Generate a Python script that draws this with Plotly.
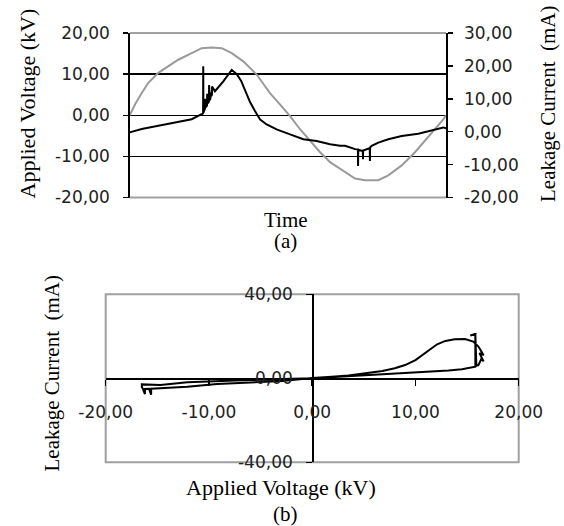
import plotly.graph_objects as go

# ---------------- data ----------------
# (a) applied voltage (kV) vs time (ms, one 50 Hz cycle)
t_voltage = [0.00, 0.34, 0.76, 1.18, 1.81, 2.44, 3.07, 3.92, 4.55, 5.18, 5.82, 6.45,
             7.18, 8.03, 8.87, 9.50, 10.14, 10.77, 11.40, 12.04, 12.67, 13.30, 13.62,
             14.25, 14.88, 15.72, 16.35, 17.20, 18.04, 18.67, 19.30, 19.83, 20.00]
voltage_kv = [0.0, 2.65, 5.4, 7.9, 10.3, 11.9, 13.5, 15.1, 16.3, 16.5, 16.3, 15.1,
              13.1, 9.9, 5.4, 2.65, -0.2, -3.4, -6.2, -9.0, -11.4, -13.0, -14.0,
              -15.4, -15.8, -15.8, -14.6, -12.2, -9.0, -6.2, -3.4, -1.0, 0.0]

# (a) leakage current (mA) vs time (ms)
t_current = [0.00, 0.76, 1.81, 2.86, 3.92, 4.24, 4.55, 4.64, 4.65, 4.66, 4.72, 4.76,
             4.77, 4.82, 4.89, 4.90, 4.95, 5.01, 5.02, 5.07, 5.11, 5.12, 5.16, 5.20,
             5.21, 5.39, 5.92, 6.45, 6.77, 7.04, 7.23, 7.42, 7.61, 7.93, 8.25, 8.66,
             9.29, 10.14, 10.98, 11.82, 12.67, 13.30, 13.62, 14.25, 14.43, 14.44, 14.45,
             14.67, 14.74, 14.75, 14.76, 14.94, 15.18, 15.19, 15.20, 15.30, 15.72, 16.35,
             17.20, 18.25, 19.30, 19.83, 20.00]
current_ma = [-0.2, 0.8, 1.8, 2.8, 3.8, 4.6, 5.4, 5.6, 19.9, 5.8, 6.6, 7.0,
              10.0, 7.4, 8.0, 11.5, 8.6, 9.2, 14.2, 9.6, 10.2, 12.0, 10.8, 11.2,
              13.7, 12.3, 15.3, 18.8, 17.5, 15.5, 13.5, 11.5, 9.0, 6.2, 3.7, 2.2,
              0.7, -0.8, -2.3, -2.8, -3.8, -4.3, -4.3, -5.3, -5.4, -10.4, -5.5,
              -5.8, -5.8, -8.4, -5.7, -5.4, -5.0, -8.9, -4.8, -4.3, -3.3, -2.3,
              -1.3, -0.6, 0.8, 1.3, 1.0]

# (b) leakage current (mA) vs applied voltage (kV)
loop_voltage = [0.0, 1.9, 3.5, 5.1, 6.8, 8.4, 10.0, 11.6, 13.2, 14.5, 15.5, 15.8, 15.8,
                15.3, 15.8, 15.9, 16.1, 16.4, 16.6, 16.2, 16.6, 16.3, 16.1, 15.6, 14.8,
                13.8, 12.9, 12.1, 11.3, 10.6, 10.0, 9.0, 8.0, 6.8, 5.1, 3.5, 1.9, 0.0,
                -2.9, -6.0, -9.2, -12.1, -14.7, -15.6, -15.6, -15.8, -16.2, -16.2, -16.4,
                -16.5, -16.5, -14.7, -12.1, -9.2, -6.0, -2.9, 0.0]
loop_current = [0.0, 0.5, 0.9, 1.3, 1.7, 2.4, 2.7, 3.2, 3.7, 4.3, 5.1, 5.5, 21.0,
                20.4, 21.0, 6.0, 6.3, 9.5, 8.0, 12.0, 11.0, 13.5, 15.1, 17.5, 18.7,
                18.6, 17.8, 16.2, 13.5, 10.8, 8.7, 6.3, 4.8, 3.5, 2.2, 1.3, 0.7, 0.1,
                -1.3, -1.9, -2.7, -4.0, -4.8, -5.0, -7.8, -5.0, -5.1, -7.5, -5.0,
                -4.2, -2.9, -3.2, -1.9, -1.3, -0.8, -0.3, 0.0]

# tick values / labels
volt_ticks_a = [-20, -10, 0, 10, 20]
volt_labels_a = ["-20,00", "-10,00", "0,00", "10,00", "20,00"]
curr_ticks_a = [-20, -10, 0, 10, 20, 30]
curr_labels_a = ["-20,00", "-10,00", "0,00", "10,00", "20,00", "30,00"]
volt_ticks_b = [-20, -10, 0, 10, 20]
volt_labels_b = ["-20,00", "-10,00", "0,00", "10,00", "20,00"]
curr_ticks_b = [-40, 0, 40]
curr_labels_b = ["-40,00", "0,00", "40,00"]

# ---------------- figure ----------------
W, H = 564, 526
def px(x):
    return x / W
def py(y):
    return 1 - y / H

tick_font = dict(family="DejaVu Sans", size=17, color="#222222")
title_font = dict(family="Liberation Serif, Times New Roman, serif", size=22, color="#000000")
cap_font = dict(family="Liberation Serif, Times New Roman, serif", size=21, color="#000000")
GRAY = "#a0a0a0"

xa_dom = [px(129.7), px(446)]
ya_dom = [py(197.5), py(33)]
xb_dom = [px(105.7), px(518.7)]
yb_dom = [py(462.3), py(294.3)]

fig = go.Figure()
fig.add_trace(go.Scatter(x=t_voltage, y=voltage_kv, mode="lines",
                         line=dict(color="#9a9a9a", width=2), xaxis="x", yaxis="y",
                         showlegend=False, hoverinfo="skip"))
fig.add_trace(go.Scatter(x=t_current, y=current_ma, mode="lines",
                         line=dict(color="#000000", width=2), xaxis="x", yaxis="y2",
                         showlegend=False, hoverinfo="skip"))
fig.add_trace(go.Scatter(x=loop_voltage, y=loop_current, mode="lines",
                         line=dict(color="#000000", width=2), xaxis="x2", yaxis="y3",
                         showlegend=False, hoverinfo="skip"))

fig.update_layout(
    width=W, height=H,
    margin=dict(l=0, r=0, t=0, b=0, autoexpand=False),
    paper_bgcolor="white", plot_bgcolor="white",
    showlegend=False,
    xaxis=dict(domain=xa_dom, anchor="y", range=[0, 20], showticklabels=False,
               showgrid=False, zeroline=False, showline=False, ticks="",
               automargin=False),
    yaxis=dict(domain=ya_dom, anchor="x", range=[-20, 20], tickvals=volt_ticks_a,
               ticktext=volt_labels_a, tickfont=tick_font, showgrid=True,
               gridcolor="#000000", gridwidth=1.3, zeroline=True, zerolinecolor="#000000",
               zerolinewidth=1.3, showline=True, linecolor="#000000", linewidth=1.5,
               ticks="outside", ticklen=5, tickcolor="#000000", tickwidth=1.5,
               ticklabelstandoff=10, automargin=False),
    yaxis2=dict(overlaying="y", side="right", anchor="x", range=[-20, 30],
                tickvals=curr_ticks_a, ticktext=curr_labels_a, tickfont=tick_font,
                showgrid=False, zeroline=False, showline=True, linecolor="#000000",
                linewidth=1.5, ticks="outside", ticklen=5, tickcolor="#000000",
                tickwidth=1.5, ticklabelstandoff=8, automargin=False),
    yaxis4=dict(overlaying="y", side="right", anchor="x", range=[-20, 30],
                tickvals=curr_ticks_a, showticklabels=False, showgrid=False,
                zeroline=False, showline=False, ticks="inside", ticklen=5,
                tickcolor="#000000", tickwidth=1.5, automargin=False),
    xaxis2=dict(domain=xb_dom, anchor="free", position=(yb_dom[0] + yb_dom[1]) / 2,
                range=[-20, 20], tickvals=volt_ticks_b, ticktext=volt_labels_b,
                tickfont=tick_font, showgrid=False, zeroline=False, showline=True,
                linecolor="#000000", linewidth=1.5, ticks="outside", ticklen=6,
                tickcolor="#000000", tickwidth=1.5, ticklabelstandoff=12,
                automargin=False),
    yaxis3=dict(domain=yb_dom, anchor="free", position=(xb_dom[0] + xb_dom[1]) / 2,
                range=[-40, 40], tickvals=curr_ticks_b, ticktext=curr_labels_b,
                tickfont=tick_font, showgrid=False, zeroline=False, showline=True,
                linecolor="#000000", linewidth=1.5, ticks="outside", ticklen=6,
                tickcolor="#000000", tickwidth=1.5, ticklabelstandoff=10,
                automargin=False),
)

# plot-area borders (gray)
fig.add_shape(type="line", xref="x domain", yref="y domain", x0=0, x1=1, y0=1, y1=1,
              line=dict(color=GRAY, width=2), layer="above")
fig.add_shape(type="line", xref="x domain", yref="y domain", x0=0, x1=1, y0=0, y1=0,
              line=dict(color=GRAY, width=2), layer="above")
fig.add_shape(type="rect", xref="x2 domain", yref="y3 domain", x0=0, x1=1, y0=0, y1=1,
              line=dict(color=GRAY, width=2), layer="below")

# titles and captions
ann = [
    dict(text="Applied Voltage (kV)", x=px(26.5), y=py(104), textangle=-90, font=title_font),
    dict(text="Leakage Current  (mA)", x=px(548), y=py(104), textangle=-90, font=cap_font),
    dict(text="Time", x=px(286), y=py(219.5), font=cap_font),
    dict(text="(a)", x=px(285), y=py(241), font=cap_font),
    dict(text="Leakage Current  (mA)", x=px(51), y=py(373.5), textangle=-90, font=cap_font),
    dict(text="Applied Voltage (kV)", x=px(281), y=py(487), font=title_font),
    dict(text="(b)", x=px(285), y=py(514), font=cap_font),
]
for a in ann:
    fig.add_annotation(xref="paper", yref="paper", showarrow=False,
                       xanchor="center", yanchor="middle", **a)

fig.write_html("out.html",
               config={"displayModeBar": False, "staticPlot": True},
               post_script="document.body.style.margin='0';document.body.style.padding='0';")
